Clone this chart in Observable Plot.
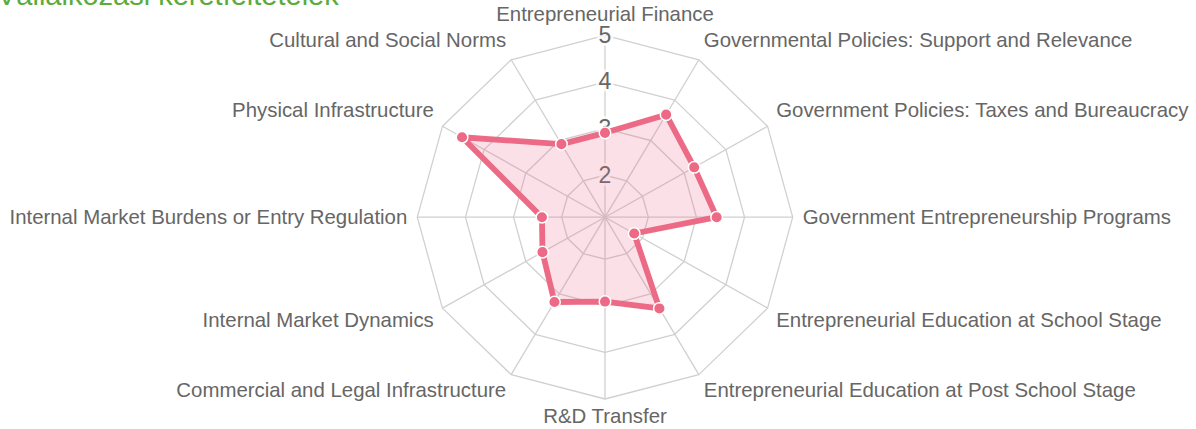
<!DOCTYPE html>
<html><head><meta charset="utf-8">
<script src="https://cdn.jsdelivr.net/npm/d3@7"></script>
<script src="https://cdn.jsdelivr.net/npm/@observablehq/plot@0.6"></script>
<style>
body{margin:0;background:#fff;overflow:hidden}
#wrap{position:relative;width:1196px;height:429px}
#title{position:absolute;left:0;top:0;overflow:visible}
</style></head><body>
<div id="wrap"><div id="chart"></div>
<svg id="title" width="1196" height="30"></svg>
</div>
<script>
const titleText = "Vállalkozási keretfeltételek";
const categories = [
  "Entrepreneurial Finance",
  "Governmental Policies: Support and Relevance",
  "Government Policies: Taxes and Bureaucracy",
  "Government Entrepreneurship Programs",
  "Entrepreneurial Education at School Stage",
  "Entrepreneurial Education at Post School Stage",
  "R&D Transfer",
  "Commercial and Legal Infrastructure",
  "Internal Market Dynamics",
  "Internal Market Burdens or Entry Regulation",
  "Physical Infrastructure",
  "Cultural and Social Norms"
];
const values = [2.91, 3.64, 3.24, 3.42, 1.80, 3.36, 2.91, 3.20, 2.60, 2.41, 4.53, 2.91];
const tickValues = [2, 3, 4, 5];
const tickLabels = ["2", "3", "4", "5"];
const scaleMin = 1.1, scaleMax = 5;

const span = scaleMax - scaleMin;
const n = categories.length;
const ang = i => i * 2 * Math.PI / n;
const px = (v, i) => (v - scaleMin) * Math.sin(ang(i));
const py = (v, i) => (v - scaleMin) * Math.cos(ang(i));

const cx = 604.5, cy = 216.7, Rx = 187.7, Ry = 181.8;
const ux = Rx / span, uy = Ry / span;
const color = "#ec6a86";
const gridColor = "#d0d0d0";
const font = "Liberation Sans, Arial, Helvetica, sans-serif";
const labelSize = 20.4;

const ringData = tickValues.flatMap(t => d3.range(n + 1).map(j => ({t, j: j % n})));
const closed = [...d3.range(n), 0];

const labelData = categories.map((c, i) => {
  const s = Math.sin(ang(i)), co = Math.cos(ang(i));
  const pad = 10;
  const shift = co > 0.01 ? 11 : (co < -0.01 ? -7.6 : 0);
  return {
    text: c,
    x: span * s + pad * s / ux,
    y: span * co + (pad * co + shift) / uy,
    anchor: s > 0.01 ? "start" : (s < -0.01 ? "end" : "middle")
  };
});

const chart = Plot.plot({
  width: 1196,
  height: 429,
  x: {domain: [-span, span], range: [cx - Rx, cx + Rx], axis: null},
  y: {domain: [-span, span], range: [cy + Ry, cy - Ry], axis: null},
  style: {fontFamily: font, background: "white", overflow: "visible"},
  marks: [
    Plot.link(categories, {
      x1: 0, y1: 0,
      x2: (d, i) => px(scaleMax, i), y2: (d, i) => py(scaleMax, i),
      stroke: gridColor, strokeWidth: 1.3
    }),
    Plot.line(ringData, {
      x: d => px(d.t, d.j), y: d => py(d.t, d.j), z: "t",
      stroke: gridColor, strokeWidth: 1.3
    }),
    Plot.text(tickValues, {
      x: 0, y: t => t - scaleMin,
      text: (t, i) => tickLabels[i],
      fontSize: 23, fill: "#666",
      stroke: "white", strokeWidth: 6, strokeOpacity: 0.75
    }),
    Plot.area(closed, {
      x1: i => px(values[i], i), y1: i => py(values[i], i),
      x2: 0, y2: 0,
      fill: color, fillOpacity: 0.2
    }),
    Plot.line(closed, {
      x: i => px(values[i], i), y: i => py(values[i], i),
      stroke: color, strokeWidth: 5.8, strokeLinejoin: "miter"
    }),
    Plot.dot(values, {
      x: (v, i) => px(v, i), y: (v, i) => py(v, i),
      r: 5.8, fill: color, stroke: "white", strokeWidth: 1.5
    }),
    Plot.text(labelData.filter(d => d.anchor === "start"), {
      x: "x", y: "y", text: "text", textAnchor: "start", fontSize: labelSize, fill: "#666"
    }),
    Plot.text(labelData.filter(d => d.anchor === "end"), {
      x: "x", y: "y", text: "text", textAnchor: "end", fontSize: labelSize, fill: "#666"
    }),
    Plot.text(labelData.filter(d => d.anchor === "middle"), {
      x: "x", y: "y", text: "text", textAnchor: "middle", fontSize: labelSize, fill: "#666"
    })
  ]
});
document.getElementById("chart").appendChild(chart);

d3.select("#title").append("text")
  .attr("x", -3).attr("y", 4.5)
  .attr("font-family", font).attr("font-size", 29)
  .attr("fill", "#5cab3c")
  .text(titleText);
</script>
</body></html>
